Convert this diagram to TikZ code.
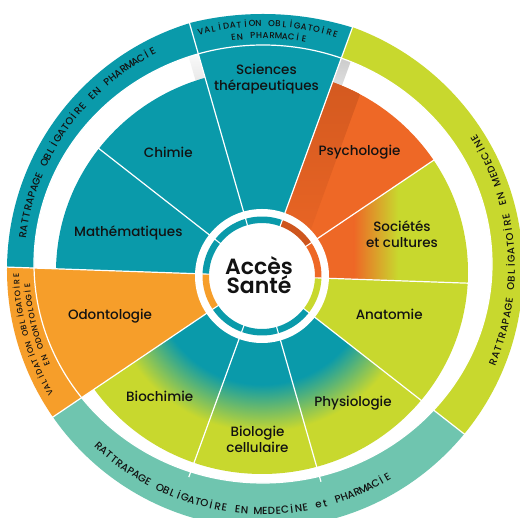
\documentclass[tikz,border=0pt]{standalone}
\usepackage{fontspec}
\setmainfont{Poppins}
\newfontfamily\lblfont{Poppins Medium}
\newfontfamily\ttlfont{Poppins SemiBold}
\newfontfamily\bandfont{Poppins Medium}
\definecolor{cTeal}{RGB}{10,154,170}
\definecolor{cLime}{RGB}{200,216,46}
\definecolor{cOrange}{RGB}{238,104,38}
\definecolor{cDarkOr}{RGB}{206,86,30}
\definecolor{cLtOr}{RGB}{246,158,42}
\definecolor{cMint}{RGB}{111,197,175}
\definecolor{cInk}{RGB}{18,18,18}
% wedge from the centre, between two angles
\newcommand\wdg[2]{(0,0) -- (#1:400pt) arc[start angle=#1,end angle=#2,radius=400pt] -- cycle}
\newcommand\annsec[4]{(#1:#3pt) -- (#1:#4pt) arc[start angle=#1,end angle=#2,radius=#4pt] -- (#2:#3pt) arc[start angle=#2,end angle=#1,radius=#3pt] -- cycle}
\newcommand\segedge{(0,4) ellipse[x radius=206pt, y radius=202pt]}
\newcommand\bandin{(1,12) ellipse[x radius=229pt, y radius=219pt]}
\newcommand\bandout{(3,6) circle[radius=258pt]}
\pgfdeclareradialshading{tlshade}{\pgfpointorigin}{color(0bp)=(cTeal); color(108bp)=(cTeal); color(155bp)=(cLime); color(270bp)=(cLime)}
\newcommand\bandA{\bandfont\fontsize{10}{10}\selectfont\color{cInk}}
\newcommand\bandM{\bandfont\fontsize{10.3}{10}\selectfont\color{cInk}}
\newcommand\bandB{\bandfont\fontsize{8.6}{9}\selectfont\color{cInk}}
\newcommand\bandC{\bandfont\fontsize{8}{8}\selectfont\color{cInk}}
% text set letter by letter on an arc
\def\tcx{2}\def\tcy{8}
\newlength\arcw
\newcommand\arctext[6]{% #1 font, #2 baseline radius, #3 centre angle, #4 span, #5 dir (1 cw, -1 ccw), #6 letters
  \gdef\arctot{0}\gdef\arcn{0}%
  \foreach \ch in {#6}{%
    \settowidth\arcw{#1\ch}%
    \pgfmathsetmacro\arctmp{\arctot+\arcw}\global\let\arctot\arctmp
    \pgfmathsetmacro\arctmp{\arcn+1}\global\let\arcn\arctmp
  }%
  \pgfmathsetmacro\arcsp{(#4*pi/180*#2-\arctot)/(\arcn-1)}%
  \global\let\arcspg\arcsp
  \pgfmathsetmacro\arcstart{#3+(#5)*0.5*#4}%
  \global\let\arcstartg\arcstart
  \gdef\arccum{0}%
  \foreach \ch in {#6}{%
    \settowidth\arcw{#1\ch}%
    \pgfmathsetmacro\arcang{\arcstartg-(#5)*(\arccum+0.5*\arcw)/#2*180/pi}%
    \pgfmathsetmacro\arcrot{\arcang-(#5)*90}%
    \pgftext[base,at={\pgfpointadd{\pgfpoint{\tcx pt}{\tcy pt}}{\pgfpointpolar{\arcang}{#2pt}}},rotate=\arcrot]{#1\ch}%
    \pgfmathsetmacro\arctmp{\arccum+\arcw+\arcspg}\global\let\arccum\arctmp
  }%
}
\tikzset{
  lbl/.style={font=\lblfont\fontsize{13.5}{15.8}\selectfont, text=cInk, align=center, inner sep=0pt},
  sepline/.style={white, line width=1.2pt},
}
\begin{document}
\begin{tikzpicture}[x=1pt,y=1pt]
\fill[white] (-262,-242) rectangle (258,276);
\useasboundingbox (-262,-242) rectangle (258,276);
% ---------- outer band ----------
\begin{scope}\clip \wdg{106}{178};
\fill[cTeal, even odd rule] \bandout \bandin;
\end{scope}
\begin{scope}\clip \wdg{70}{106};
\fill[cTeal, even odd rule] (1,-38) circle[radius=300pt] \bandin;
\end{scope}
\begin{scope}\clip \wdg{-38}{70};
\fill[cLime, even odd rule] \bandout \bandin;
\end{scope}
\begin{scope}\clip \wdg{214}{322};
\fill[cMint, even odd rule] \bandout \bandin;
\end{scope}
\begin{scope}\clip \wdg{178}{214};
\fill[cLtOr, even odd rule] \bandout \bandin;
\end{scope}
% ---------- soft shadows in the gap ----------
\begin{scope}\clip \wdg{106}{114}; \clip \bandin;
\begin{scope}[rotate=106]
\shade[top color=white, bottom color=black!22] (150,0) rectangle (240,10);
\end{scope}
\end{scope}
\begin{scope}\clip \wdg{62}{70}; \clip \bandin;
\begin{scope}[rotate=70]
\shade[top color=black!22, bottom color=white] (150,-10) rectangle (240,0);
\end{scope}
\end{scope}
% ---------- segments ----------
\begin{scope}\clip \wdg{70}{106}; \fill[cTeal] \bandin; \end{scope}
\begin{scope}\clip \wdg{106}{178}; \fill[cTeal] \segedge; \end{scope}
\begin{scope}\clip \wdg{178}{214}; \fill[cLtOr] \bandin; \end{scope}
\begin{scope}\clip \wdg{214}{322}; \clip \segedge;
\pgftext[at=\pgfpointorigin]{\pgfuseshading{tlshade}}
\end{scope}
\begin{scope}\clip \wdg{-38}{-2}; \fill[cLime] \segedge; \end{scope}
\begin{scope}\clip \wdg{-2}{34}; \clip \segedge;
\fill[cOrange] (0,-30) rectangle (92,220);
\shade[left color=cOrange, right color=cLime] (92,-30) rectangle (136,220);
\fill[cLime] (136,-30) rectangle (230,220);
\end{scope}
\begin{scope}\clip \wdg{34}{70}; \clip \segedge;
\fill[cOrange] (0,0) circle[radius=230pt];
\begin{scope}[rotate=70]
\shade[top color=cDarkOr, bottom color=cOrange] (0,-30) rectangle (260,0);
\end{scope}
\end{scope}
% ---------- white separators ----------
\draw[sepline] \bandin;
\foreach \a in {70,106,178,214,322} \draw[sepline] (\a:0pt) -- (\a:275pt);
\foreach \a in {-2,34,142,250,286} \draw[sepline] (\a:0pt) -- (\a:214pt);
% ---------- centre ----------
\fill[white] (0,0) circle[radius=67pt];
\fill[cLime] \annsec{-38}{-2}{53}{59.5};
\fill[cOrange] \annsec{-2}{34}{53}{59.5};
\fill[cDarkOr] \annsec{34}{70}{53}{59.5};
\fill[cTeal] \annsec{70}{178}{53}{59.5};
\fill[cLtOr] \annsec{178}{214}{53}{59.5};
\fill[cTeal] \annsec{214}{322}{53}{59.5};
\foreach \a in {-2,34,70,106,142,178,214,250,286,322} \draw[white, line width=1.1pt] (\a:52pt) -- (\a:61pt);
\node[font=\ttlfont\fontsize{22}{18.5}\selectfont, text=cInk, align=center, inner sep=0pt] (acces) at (-3,1) {Accès\\Santé};
% ---------- labels ----------
\node[lbl] (sciences) at (4.5,197.3) {Sciences\\thérapeutiques};
\node[lbl] (chimie) at (-93.7,123.5) {Chimie};
\node[lbl] (maths) at (-133.7,43) {Mathématiques};
\node[lbl] (odonto) at (-152,-39.7) {Odontologie};
\node[lbl] (biochimie) at (-102.3,-120.3) {Biochimie};
\node[lbl] (biologie) at (-4.5,-163) {Biologie\\cellulaire};
\node[lbl] (physio) at (91,-126.7) {Physiologie};
\node[lbl] (anatomie) at (127.2,-38.7) {Anatomie};
\node[lbl] (societes) at (140,42) {Sociétés\\et cultures};
\node[lbl] (psycho) at (97.5,123.8) {Psychologie};
% ---------- band texts ----------
\arctext{\bandA}{240}{144.7}{55}{1}{R,A,T,T,R,A,P,A,G,E,~,O,B,L,İ,G,A,T,O,İ,R,E,~,E,N,~,P,H,A,R,M,A,C,İ,E}
\arctext{\bandB}{241.5}{89}{32}{1}{V,A,L,İ,D,A,T,İ,O,N,~,O,B,L,İ,G,A,T,O,İ,R,E}
\arctext{\bandB}{229.5}{88.8}{17.5}{1}{E,N,~,P,H,A,R,M,A,C,İ,E}
\arctext{\bandC}{245}{196}{28.3}{1}{V,A,L,İ,D,A,T,İ,O,N,~,O,B,L,İ,G,A,T,O,İ,R,E}
\arctext{\bandC}{234.5}{194}{19.5}{1}{E,N,~,O,D,O,N,T,O,L,O,G,İ,E}
\arctext{\bandA}{251}{4.7}{54}{-1}{R,A,T,T,R,A,P,A,G,E,~,O,B,L,İ,G,A,T,O,İ,R,E,~,E,N,~,M,E,D,E,C,İ,N,E}
\arctext{\bandM}{246.5}{263.8}{73.4}{-1}{R,A,T,T,R,A,P,A,G,E,~,O,B,L,İ,G,A,T,O,İ,R,E,~,E,N,~,M,E,D,E,C,İ,N,E,~,e,t,~,P,H,A,R,M,A,C,İ,E}
\end{tikzpicture}
\end{document}
